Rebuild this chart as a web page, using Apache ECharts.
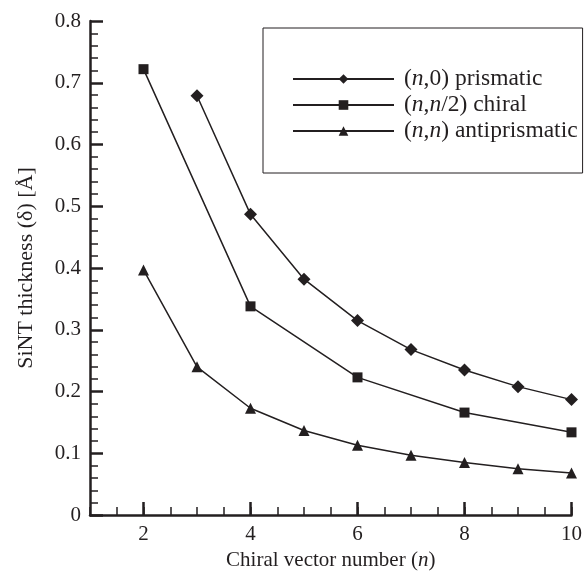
<!DOCTYPE html>
<html>
<head>
<meta charset="utf-8">
<script src="https://cdn.jsdelivr.net/npm/echarts@6/dist/echarts.min.js"></script>
<style>html,body{margin:0;padding:0;background:#fff;}#c{width:585px;height:576px;}</style>
</head>
<body>
<div id="c"></div>
<script>
// Data
const nPrismatic = [3, 4, 5, 6, 7, 8, 9, 10];
const prismatic = [0.679, 0.487, 0.382, 0.315, 0.268, 0.235, 0.208, 0.187];
const nChiral = [2, 4, 6, 8, 10];
const chiral = [0.722, 0.338, 0.223, 0.166, 0.134];
const nAnti = [2, 3, 4, 5, 6, 7, 8, 9, 10];
const antiprismatic = [0.397, 0.240, 0.173, 0.137, 0.113, 0.097, 0.085, 0.075, 0.068];
const xMajorTicks = [2, 4, 6, 8, 10];
const seriesNames = ['(n,0) prismatic', '(n,n/2) chiral', '(n,n) antiprismatic'];
const legendLabels = ['({i|n},0) prismatic', '({i|n},{i|n}/2) chiral', '({i|n},{i|n}) antiprismatic'];

const ink = '#231f20';
const font = '"Liberation Serif", "Times New Roman", serif';
const pairs = (xs, ys) => xs.map((x, i) => [x, ys[i]]);

const chart = echarts.init(document.getElementById('c'));
const lineSeries = (name, xs, ys, symbol, size) => ({
  name, type: 'line', data: pairs(xs, ys), xAxisIndex: 0,
  symbol, symbolSize: size, showAllSymbol: true,
  lineStyle: {color: ink, width: 1.5},
  itemStyle: {color: ink, borderWidth: 0},
  animation: false
});
chart.setOption({
  backgroundColor: '#fff',
  animation: false,
  grid: {left: 90, right: 12, top: 21, bottom: 60, containLabel: false},
  legend: {
    left: 263, top: 28, orient: 'vertical',
    padding: [39, 5, 30, 29],
    itemGap: 2, itemWidth: 101, itemHeight: 12,
    borderColor: ink, borderWidth: 1,
    data: seriesNames.map((n, i) => ({name: n})),
    formatter: name => legendLabels[seriesNames.indexOf(name)],
    textStyle: {
      fontFamily: font, fontSize: 23.5, lineHeight: 23.5, color: ink, padding: [0, 0, 0, 5],
      rich: {i: {fontFamily: font, fontSize: 23.5, lineHeight: 23.5, fontStyle: 'italic', color: ink}}
    }
  },
  xAxis: [{
    type: 'value', min: 1, max: 10,
    name: 'Chiral vector number ({i|n})', nameLocation: 'middle', nameGap: 32,
    nameTextStyle: {fontFamily: font, fontSize: 21, color: ink,
      rich: {i: {fontFamily: font, fontSize: 21, fontStyle: 'italic', color: ink}}},
    axisLine: {lineStyle: {color: ink, width: 2.5}},
    axisTick: {inside: true, length: 13, customValues: xMajorTicks, lineStyle: {color: ink, width: 2.5}},
    axisLabel: {customValues: xMajorTicks, fontFamily: font, fontSize: 21, color: ink, margin: 9},
    splitLine: {show: false}
  }, {
    type: 'value', min: 1, max: 10, interval: 0.5, position: 'bottom',
    axisLine: {show: false},
    axisTick: {inside: true, length: 8, lineStyle: {color: ink, width: 1.5}},
    axisLabel: {show: false},
    splitLine: {show: false}
  }],
  yAxis: {
    type: 'value', min: 0, max: 0.8, interval: 0.1,
    name: 'SiNT thickness (δ) [Å]', nameLocation: 'middle', nameGap: 53,
    nameTextStyle: {fontFamily: font, fontSize: 22, color: ink},
    axisLine: {show: true, lineStyle: {color: ink, width: 2.5}},
    axisTick: {show: true, inside: true, length: 13, lineStyle: {color: ink, width: 2.5}},
    minorTick: {show: true, splitNumber: 5, length: 8, lineStyle: {color: ink, width: 1.5}},
    axisLabel: {fontFamily: font, fontSize: 21, color: ink, margin: 9},
    splitLine: {show: false}
  },
  series: [
    lineSeries(seriesNames[0], nPrismatic, prismatic, 'diamond', 13),
    lineSeries(seriesNames[1], nChiral, chiral, 'rect', 10),
    lineSeries(seriesNames[2], nAnti, antiprismatic, 'triangle', 11)
  ]
});
</script>
</body>
</html>
